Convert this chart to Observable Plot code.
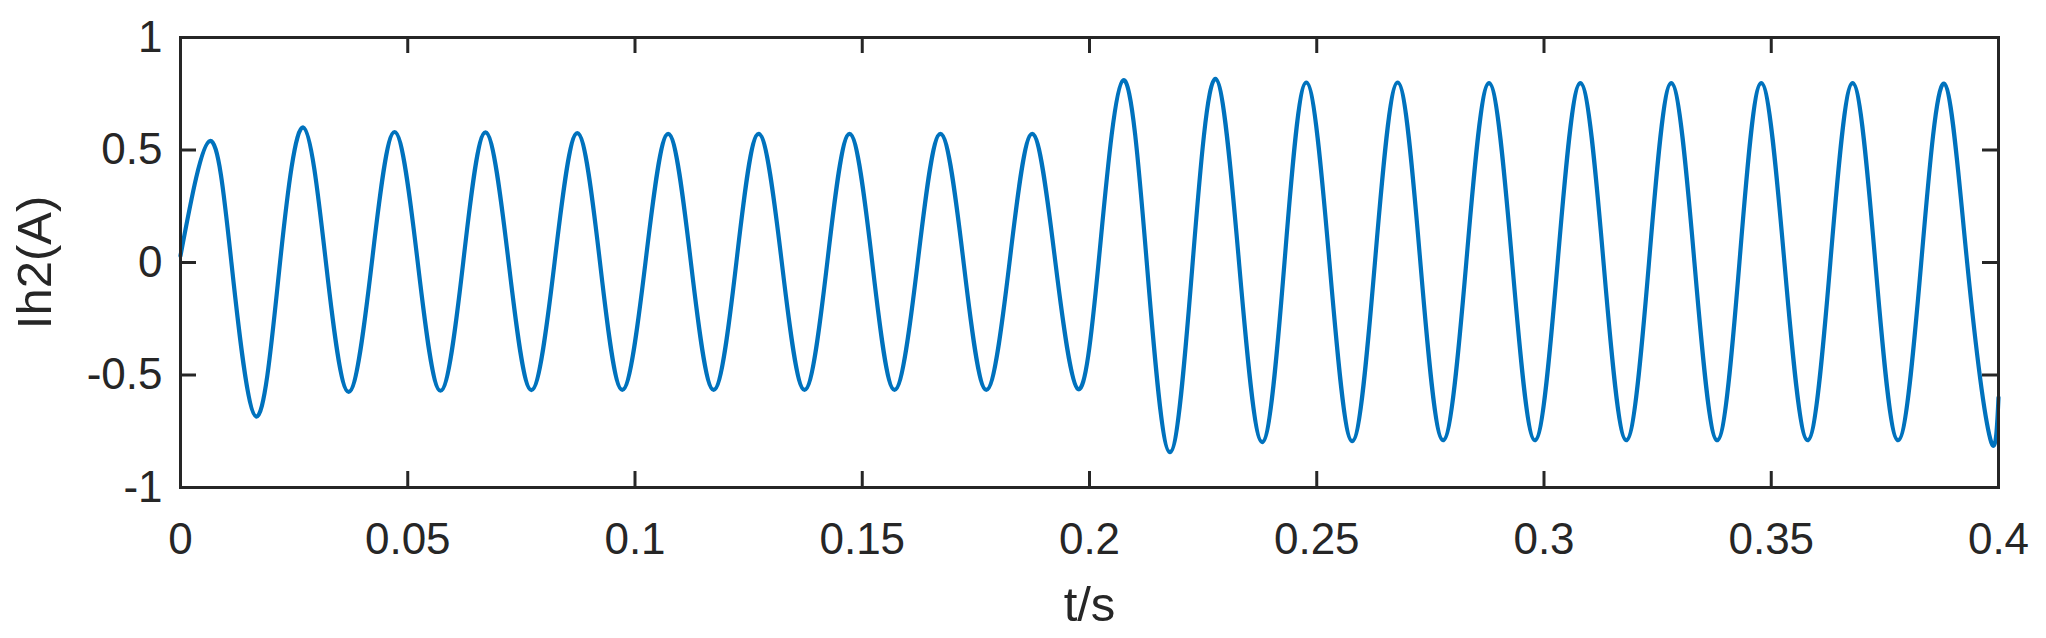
<!DOCTYPE html>
<html><head><meta charset="utf-8">
<script src="https://cdn.jsdelivr.net/npm/d3@7"></script>
<script src="https://cdn.jsdelivr.net/npm/@observablehq/plot@0.6"></script>
<style>html,body{margin:0;padding:0;background:#fff}</style>
</head><body><div id="chart"></div>
<script>
// Times (s) of the peaks and troughs of Ih2
const extremaT = [0.0065, 0.0167, 0.0270, 0.0370, 0.0471, 0.0572, 0.0671, 0.0772, 0.0873, 0.0972,
  0.1073, 0.1173, 0.1272, 0.1373, 0.1472, 0.1571, 0.1672, 0.1773, 0.1874, 0.1975,
  0.2074, 0.2177, 0.2277, 0.2380, 0.2477, 0.2578, 0.2678, 0.2778, 0.2879, 0.2980,
  0.3080, 0.3181, 0.3280, 0.3381, 0.3478, 0.3580, 0.3679, 0.3779, 0.3880, 0.3982];
// Values (A) at those peaks and troughs
const extremaI = [0.54, -0.685, 0.60, -0.575, 0.58, -0.57, 0.578, -0.567, 0.575, -0.566,
  0.572, -0.566, 0.572, -0.566, 0.572, -0.566, 0.572, -0.566, 0.572, -0.563,
  0.81, -0.843, 0.816, -0.798, 0.80, -0.794, 0.80, -0.79, 0.797, -0.79,
  0.797, -0.79, 0.797, -0.79, 0.797, -0.79, 0.797, -0.79, 0.795, -0.785];
// Times (s) where the current crosses zero
const crossingT = [0.0112, 0.0219, 0.0320, 0.0421, 0.0522, 0.0622, 0.0722, 0.0823, 0.0923, 0.1023,
  0.1123, 0.1223, 0.1323, 0.1423, 0.1522, 0.1622, 0.1723, 0.1824, 0.1925, 0.2020,
  0.2126, 0.2227, 0.2329, 0.2429, 0.2528, 0.2628, 0.2728, 0.2829, 0.2930, 0.3030,
  0.3131, 0.3231, 0.3331, 0.3430, 0.3529, 0.3630, 0.3729, 0.3830, 0.3931];
const startPoint = {t: 0, i: 0.03};
const endPoint = {t: 0.4, i: -0.6};

const xTicks = [0, 0.05, 0.1, 0.15, 0.2, 0.25, 0.3, 0.35, 0.4];
const xTickLabels = ["0", "0.05", "0.1", "0.15", "0.2", "0.25", "0.3", "0.35", "0.4"];
const yTicks = [-1, -0.5, 0, 0.5, 1];
const yTickLabels = ["-1", "-0.5", "0", "0.5", "1"];
const xLabel = "t/s";
const yLabel = "Ih2(A)";

const W = 2046, H = 638, mL = 180, mR = 48, mT = 37, mB = 151;
const pw = W - mL - mR, ph = H - mT - mB;
const tickLen = 16;
const ink = "#262626";

const points = [startPoint,
  ...extremaT.map((t, k) => ({t, i: extremaI[k]})),
  ...crossingT.map(t => ({t, i: 0})),
  endPoint].sort((a, b) => a.t - b.t);

const chart = Plot.plot({
  width: W, height: H,
  marginLeft: mL, marginRight: mR, marginTop: mT, marginBottom: mB,
  style: {fontFamily: "'Liberation Sans', Arial, sans-serif", fontSize: "44px", color: ink, background: "#fff", overflow: "visible"},
  x: {domain: [0, 0.4]},
  y: {domain: [-1, 1]},
  marks: [
    Plot.line(points, {x: "t", y: "i", stroke: "#0072BD", strokeWidth: 4.2, curve: "natural"}),
    Plot.tickY(yTicks, {y: d => d, stroke: ink, strokeWidth: 3, insetRight: pw - tickLen}),
    Plot.tickY(yTicks, {y: d => d, stroke: ink, strokeWidth: 3, insetLeft: pw - tickLen}),
    Plot.tickX(xTicks, {x: d => d, stroke: ink, strokeWidth: 3, insetBottom: ph - tickLen}),
    Plot.tickX(xTicks, {x: d => d, stroke: ink, strokeWidth: 3, insetTop: ph - tickLen}),
    Plot.frame({stroke: ink, strokeWidth: 3}),
    Plot.axisX(xTicks, {anchor: "bottom", tickSize: 0, tickPadding: 35, tickFormat: (d, i) => xTickLabels[i], label: null, fontSize: 44}),
    Plot.axisY(yTicks, {anchor: "left", tickSize: 0, tickPadding: 18, tickFormat: (d, i) => yTickLabels[i], label: null, fontSize: 44}),
    Plot.axisX([], {anchor: "bottom", tickSize: 0, label: xLabel, labelAnchor: "center", labelArrow: "none", labelOffset: 133, fontSize: 49}),
    Plot.axisY([], {anchor: "left", tickSize: 0, label: yLabel, labelAnchor: "center", labelArrow: "none", labelOffset: 164, fontSize: 49})
  ]
});
document.getElementById("chart").appendChild(chart);
</script>
</body></html>
